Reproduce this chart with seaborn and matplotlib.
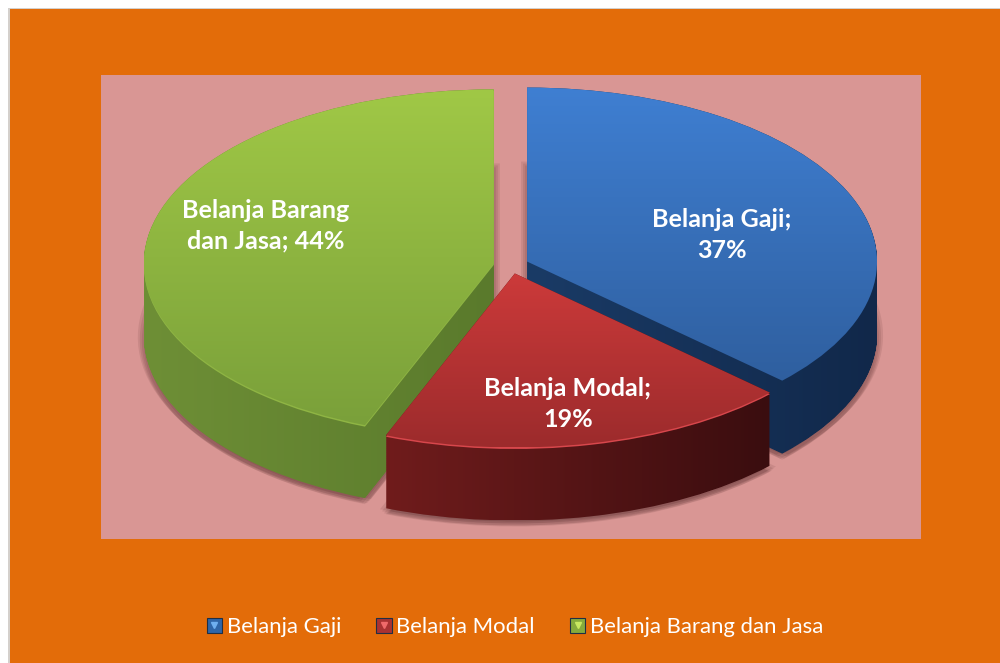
import matplotlib
matplotlib.use("Agg")
import matplotlib.pyplot as plt
import numpy as np
import seaborn as sns
from matplotlib.legend_handler import HandlerTuple
from matplotlib.lines import Line2D
from matplotlib.patches import Patch, Rectangle
from matplotlib.path import Path

categories = ['Belanja Gaji', 'Belanja Modal', 'Belanja Barang dan Jasa']
shares = [37, 19, 44]
slice_labels = ['Belanja Gaji;\n37%', 'Belanja Modal;\n19%', 'Belanja Barang\ndan Jasa; 44%']

# top face gradient (top to bottom), side gradient (left to right)
top_colors = [('#3f7fd2', '#2f5f9f'), ('#cc3a3a', '#9c2b2c'), ('#a0c846', '#7aa03a')]
side_colors = [('#1a3b66', '#11284a'), ('#701c1c', '#3a0d0f'), ('#6e8f36', '#5a7a2c')]
rim_colors = [None, '#d8474c', '#8fb544']
legend_colors = ['#2f66a8', '#a93232', '#86ab3c']
legend_tips = ['#6fb0f0', '#f06a6a', '#c8e860']

sns.set_theme(style='white')
plt.rcParams['font.family'] = ['Lato', 'DejaVu Sans']

W, H = 1000, 663
RX, RY = 350, 174     # pixels per pie unit
CX, CY = 511, 265     # pie centre in pixels
DEPTH = 73 / RY
explode = [0.05, 0.05, 0.05]

fig = plt.figure(figsize=(10, 6.63), dpi=100, facecolor='white')
fig.add_artist(Rectangle((8 / W, 0), 1, 1 - 8 / H, transform=fig.transFigure, color='#d4d0cc', lw=0, zorder=-2))
fig.add_artist(Rectangle((10 / W, 0), 1, 1 - 9 / H, transform=fig.transFigure, color='#e36c09', lw=0, zorder=-1))

ax = fig.add_axes([101 / W, 1 - 539 / H, 820 / W, 464 / H])
xlim = ((101 - CX) / RX, (921 - CX) / RX)
ylim = ((CY - 539) / RY, (CY - 75) / RY)


def slice_path(i, drop=0.0):
    wedges, _ = ax.pie(shares, explode=explode, startangle=90, counterclock=False,
                       center=(0, -drop), radius=1)
    p = wedges[i].get_path().transformed(wedges[i].get_patch_transform())
    for w in wedges:
        w.remove()
    return p


def fill(path, colors, horizontal):
    cmap = sns.blend_palette(colors, as_cmap=True)
    ext = path.get_extents()
    grad = np.linspace(0, 1, 256)
    grad = grad.reshape(1, -1) if horizontal else grad.reshape(-1, 1)
    im = ax.imshow(grad, cmap=cmap, aspect='auto', origin='upper', interpolation='bilinear',
                   extent=(ext.x0, ext.x1, ext.y0, ext.y1), vmin=0, vmax=1)
    im.set_clip_path(path, ax.transData)


def extrude(i):
    n = int(DEPTH * RY)
    return Path.make_compound_path(*[slice_path(i, DEPTH * k / n) for k in range(n + 1)])


def shadow(i, dx, dy, alpha):
    wedges, _ = ax.pie(shares, explode=explode, startangle=90, counterclock=False,
                       center=(dx / RX, -dy / RY), radius=1)
    for j, w in enumerate(wedges):
        if j == i:
            w.set_facecolor((0.25, 0.1, 0.1, alpha))
            w.set_edgecolor('none')
            w.set_zorder(-1)
        else:
            w.remove()


# soft drop shadows on the pink area
for i in (0, 2, 1):
    for dx, dy in [(-6, 74), (6, 74), (-4, 76), (4, 76), (-2, 78), (2, 78), (0, 79)]:
        shadow(i, dx, dy, 0.10)

# blue and green first, the red slice sits in front of them
for i in (0, 2, 1):
    fill(extrude(i), side_colors[i], True)
    if rim_colors[i]:
        fill(slice_path(i, 1.5 / RY), (rim_colors[i], rim_colors[i]), False)
    fill(slice_path(i), top_colors[i], False)

ax.set_aspect('auto')
ax.set_xlim(xlim)
ax.set_ylim(ylim)
ax.set_frame_on(True)
ax.set_facecolor('#d99694')
for s in ax.spines.values():
    s.set_visible(False)
ax.set_xticks([])
ax.set_yticks([])


def to_data(px, py):
    return (px - CX) / RX, (CY - py) / RY


for lab, (px, py) in zip(slice_labels, [(722, 235), (568, 404), (266, 226)]):
    x, y = to_data(px, py)
    ax.text(x, y, lab, color='white', fontsize=18.1, fontweight='bold', ha='center', va='center',
            linespacing=1.4)

handles = [(Patch(facecolor=c, edgecolor='#1f2f45', lw=0.8),
            Line2D([], [], marker='v', color=t, ms=5, ls='none'))
           for c, t in zip(legend_colors, legend_tips)]
fig.legend(handles, categories, handler_map={tuple: HandlerTuple(ndivide=1, pad=0)}, loc='center',
           bbox_to_anchor=(515 / W, 1 - 627 / H), ncol=3, frameon=False, fontsize=15.9,
           labelcolor='white', handlelength=0.7, handleheight=0.7, handletextpad=0.2,
           columnspacing=1.6)

fig.savefig('out.png', dpi=100, facecolor=fig.get_facecolor())
